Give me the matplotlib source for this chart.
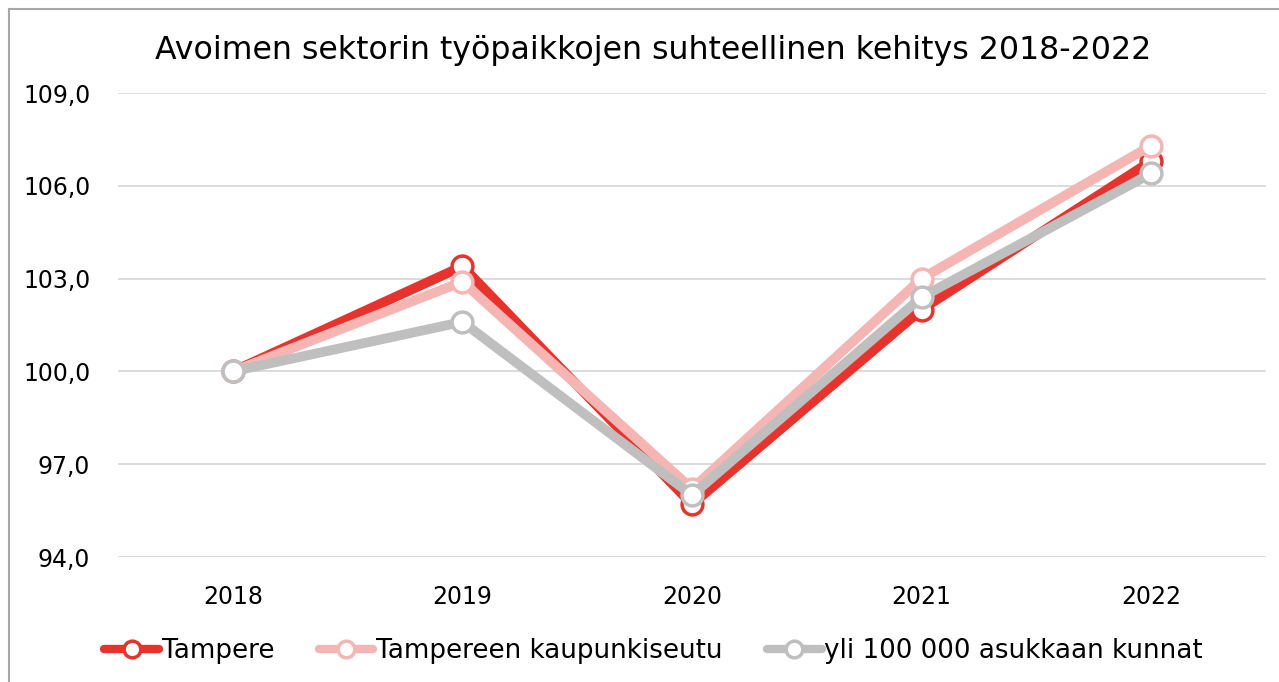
import matplotlib.pyplot as plt
from matplotlib.lines import Line2D

years = ["2018", "2019", "2020", "2021", "2022"]
tampere = [100.0, 103.4, 95.7, 102.0, 106.8]
seutu = [100.0, 102.9, 96.2, 103.0, 107.3]
yli100k = [100.0, 101.6, 96.0, 102.4, 106.4]

yticks = [94, 97, 100, 103, 106, 109]
ytick_labels = ["94,0", "97,0", "100,0", "103,0", "106,0", "109,0"]

plt.rcParams["font.family"] = ["DejaVu Sans"]

fig = plt.figure(figsize=(12.79, 6.82), dpi=100)
ax = fig.add_axes([118 / 1279, 1 - 557 / 682, (1266 - 118) / 1279, (557 - 93) / 682])

x = range(len(years))
series = [
    (tampere, "Tampere", "#E8322B"),
    (seutu, "Tampereen kaupunkiseutu", "#F5B5B3"),
    (yli100k, "yli 100 000 asukkaan kunnat", "#BFBFBF"),
]
for vals, name, col in series:
    ax.plot(x, vals, color=col, lw=7, marker="o", ms=15, mfc="white",
            mec=col, mew=2.5, label=name, solid_capstyle="round",
            solid_joinstyle="miter")

ax.set_xlim(-0.5, 4.5)
ax.set_ylim(94, 109)
ax.set_xticks(list(x))
ax.set_xticklabels(years)
ax.set_yticks(yticks)
ax.set_yticklabels(ytick_labels)
ax.tick_params(length=0, labelsize=17, colors="black")
ax.tick_params(axis="y", pad=20)
ax.tick_params(axis="x", pad=20)
ax.grid(axis="y", color="#D9D9D9", lw=1.3)
ax.set_axisbelow(True)
for s in ax.spines.values():
    s.set_visible(False)

fig.text(0.511, 1 - 51 / 682, "Avoimen sektorin työpaikkojen suhteellinen kehitys 2018-2022",
         ha="center", va="center", fontsize=22.8)

leg = fig.legend(loc="center", bbox_to_anchor=(0.511, 1 - 651 / 682), ncol=3,
                 frameon=False, fontsize=18.8, handlelength=2.1, handletextpad=0.1,
                 columnspacing=1.7)
for h in leg.legend_handles:
    h.set_linewidth(6)
    h.set_markersize(12)
    h.set_markeredgewidth(2.5)

# outer frame (only left and top visible in the reference)
fig.add_artist(Line2D([9 / 1279, 9 / 1279], [0, 1 - 9 / 682], transform=fig.transFigure,
                      color="#A6A6A6", lw=1.5))
fig.add_artist(Line2D([9 / 1279, 1], [1 - 9 / 682, 1 - 9 / 682], transform=fig.transFigure,
                      color="#A6A6A6", lw=1.5))

fig.savefig("out.png", dpi=100)
